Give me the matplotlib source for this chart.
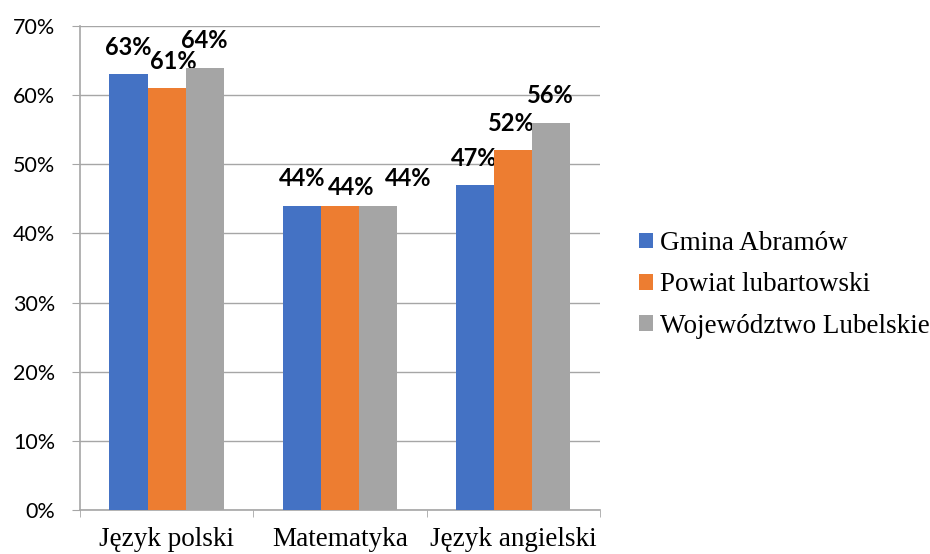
import numpy as np
import matplotlib.pyplot as plt
from matplotlib.ticker import FuncFormatter, FixedLocator

subjects = ['Język polski', 'Matematyka', 'Język angielski']
series = ['Gmina Abramów', 'Powiat lubartowski', 'Województwo Lubelskie']
gmina = [63, 44, 47]
powiat = [61, 44, 52]
wojew = [64, 44, 56]
colors = ['#4472C4', '#ED7D31', '#A5A5A5']

# label nudges (points) to mimic the original placement
label_dx = [[0, 5, 0], [0, 8, 22], [-1, -1, -1]]
label_dy = [[14, 14, 14], [14, 8, 14], [14, 14, 14]]

fig = plt.figure(figsize=(9.3, 5.54), dpi=100)
ax = fig.add_axes([0.086, 0.0794, 0.559, 0.8736])

x = np.arange(len(subjects))
w = 0.22
for i, (vals, c, name) in enumerate(zip([gmina, powiat, wojew], colors, series)):
    pos = x + (i - 1) * w
    ax.bar(pos, vals, w, color=c, label=name, zorder=3)
    for j, (p, v) in enumerate(zip(pos, vals)):
        ax.annotate(f'{v}%', (p, v), xytext=(label_dx[j][i], label_dy[j][i]),
                    textcoords='offset points', ha='center', va='baseline',
                    fontsize=17, fontweight='bold', family='Lato', color='black')

ax.set_xlim(-0.5, 2.5)
ax.set_ylim(0, 70)
ax.set_yticks(range(0, 71, 10))
ax.yaxis.set_major_formatter(FuncFormatter(lambda v, p: f'{v:.0f}%'))
for lab in ax.get_yticklabels():
    lab.set_family('Lato')
    lab.set_fontsize(15.5)
ax.tick_params(axis='y', length=6, color='#a6a6a6', pad=12)
ax.grid(axis='y', color='#a6a6a6', linewidth=1, zorder=0)

ax.set_xticks(x)
ax.set_xticklabels(subjects, family='Liberation Serif', fontsize=19.5)
ax.tick_params(axis='x', length=0, pad=12)
ax.xaxis.set_minor_locator(FixedLocator([-0.5, 0.5, 1.5, 2.5]))
ax.tick_params(axis='x', which='minor', length=5, color='#a6a6a6')

for s in ['top', 'right']:
    ax.spines[s].set_visible(False)
for s in ['left', 'bottom']:
    ax.spines[s].set_color('#a6a6a6')
    ax.spines[s].set_linewidth(1.2)

fig.legend(loc='center left', bbox_to_anchor=(0.687, 0.486), frameon=False,
           prop={'family': 'Liberation Serif', 'size': 19.5},
           borderaxespad=0, borderpad=0,
           handlelength=0.52, handleheight=0.52, handletextpad=0.25, labelspacing=0.6)

fig.savefig('out.png', dpi=100)
